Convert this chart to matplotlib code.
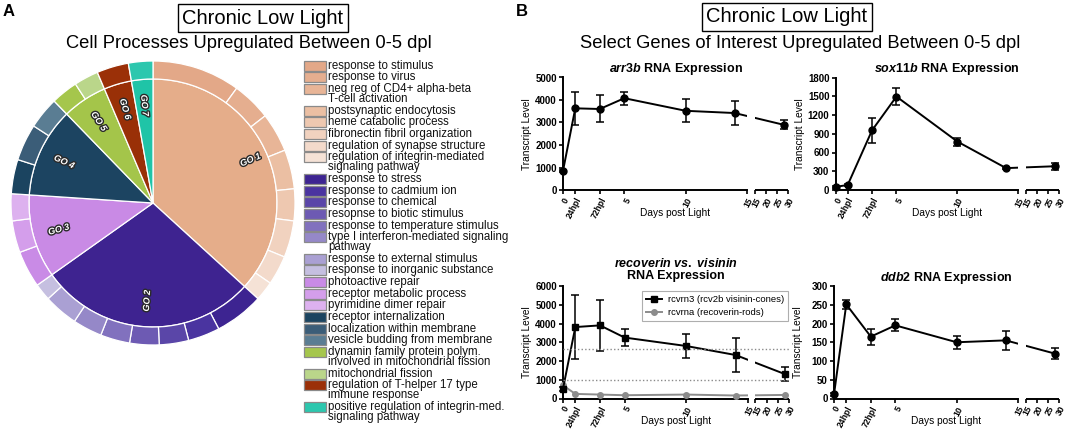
import numpy as np
import matplotlib
matplotlib.use('Agg')
import matplotlib.pyplot as plt
from matplotlib.patches import Rectangle
import matplotlib.patheffects as pe

plt.rcParams['font.family'] = ['Liberation Sans', 'DejaVu Sans']
plt.rcParams['mathtext.fontset'] = 'custom'
plt.rcParams['mathtext.it'] = 'Liberation Sans:italic:bold'
plt.rcParams['mathtext.rm'] = 'Liberation Sans:bold'
plt.rcParams['mathtext.bf'] = 'Liberation Sans:bold'

# ---------------- Data: pie (panel A) ----------------
go_names = ['GO 1', 'GO 2', 'GO 3', 'GO 4', 'GO 5', 'GO 6', 'GO 7']
go_colors = ['#e5ad8a', '#3e2390', '#c98ae5', '#1c4461', '#a4c54a', '#993007', '#1fc4a7']

go1_terms = ['response to stimulus', 'response to virus', 'neg reg of CD4+ alpha-beta\nT-cell activation',
             'postsynaptic endocytosis', 'heme catabolic process', 'fibronectin fibril organization',
             'regulation of synapse structure', 'regulation of integrin-mediated\nsignaling pathway']
go1_values = [36, 16, 16, 16, 13, 15, 12, 8]
go1_colors = ['#e3a888', '#e5ae8f', '#e8b597', '#ebbfa3', '#eec8b0', '#f1d2bf', '#f3dacb', '#f5e2d6']

go2_terms = ['response to stress', 'response to cadmium ion', 'response to chemical',
             'resopnse to biotic stimulus', 'response to temperature stimulus',
             'type I interferon-mediated signaling\npathway', 'response to external stimulus',
             'response to inorganic substance']
go2_values = [20, 13, 12, 12, 12, 12, 14, 7]
go2_colors = ['#3d2491', '#4a34a0', '#5a46a8', '#6d5ab3', '#8171be', '#9588c8', '#aaa0d3', '#c5bfe0']

go3_terms = ['photoactive repair', 'receptor metabolic process', 'pyrimidine dimer repair']
go3_values = [15, 13, 11]
go3_colors = ['#c98be6', '#d49eeb', '#ddb1ef']

go4_terms = ['receptor internalization', 'localization within membrane', 'vesicle budding from membrane']
go4_values = [14, 15, 13]
go4_colors = ['#1b4460', '#3b5d78', '#5a7d93']

go5_terms = ['dynamin family protein polym.\ninvolved in mitochondrial fission', 'mitochondrial fission']
go5_values = [11, 10]
go5_colors = ['#a5c64c', '#bad68a']

go6_terms = ['regulation of T-helper 17 type\nimmune response']
go6_values = [13]
go6_colors = ['#9b3008']

go7_terms = ['positive regulation of integrin-med.\nsignaling pathway']
go7_values = [10]
go7_colors = ['#2cc7ae']

# ---------------- Data: line charts (panel B) ----------------
days = [0, 1, 3, 5, 10, 14, 28]
x_ticks = [0, 1, 3, 5, 10, 15, 15.0001, 20, 25, 30]
x_ticklabels = ['0', '24hpl', '72hpl', '5', '10', '15', '15', '20', '25', '30']

arr3b_mean = [850, 3630, 3600, 4080, 3520, 3420, 2900]
arr3b_err = [60, 740, 600, 290, 520, 520, 200]

sox11b_mean = [50, 80, 955, 1495, 775, 350, 380]
sox11b_err = [15, 15, 200, 140, 65, 15, 60]

rcvrn3_mean = [520, 3810, 3900, 3250, 2800, 2320, 1310]
rcvrn3_err = [100, 1690, 1370, 440, 640, 890, 350]
rcvrna_mean = [700, 245, 210, 175, 210, 160, 190]
rcvrn_reflines = [2620, 1000]

ddb2_mean = [11, 251, 165, 195, 150, 155, 120]
ddb2_err = [3, 11, 21, 16, 18, 25, 15]

# ---------------- Figure ----------------
W, H = 1065, 429
fig = plt.figure(figsize=(W / 100, H / 100), dpi=100)


def px_axes(x0, y0, x1, y1):
    return fig.add_axes([x0 / W, 1 - y1 / H, (x1 - x0) / W, (y1 - y0) / H])


# overlay for annotations in pixel coordinates
ov = fig.add_axes([0, 0, 1, 1], zorder=10)
ov.set_xlim(0, W)
ov.set_ylim(H, 0)
ov.axis('off')

# ---- Panel A: pie ----
sub_values = [go1_values, go2_values, go3_values, go4_values, go5_values, go6_values, go7_values]
sub_colors = [go1_colors, go2_colors, go3_colors, go4_colors, go5_colors, go6_colors, go7_colors]
sub_terms = [go1_terms, go2_terms, go3_terms, go4_terms, go5_terms, go6_terms, go7_terms]
group_totals = [sum(v) for v in sub_values]
flat_vals = [v for grp in sub_values for v in grp]
flat_cols = [c for grp in sub_colors for c in grp]

axp = px_axes(9, 59, 297, 347)
r_in = 124 / 142
wedges, _ = axp.pie(group_totals, colors=go_colors, radius=r_in, startangle=90, counterclock=False,
                    wedgeprops=dict(edgecolor='white', linewidth=0.9))
axp.pie(flat_vals, colors=flat_cols, radius=1.0, startangle=90, counterclock=False,
        wedgeprops=dict(width=1.0 - r_in, edgecolor='white', linewidth=0.9))
axp.set_xlim(-144 / 142, 144 / 142)
axp.set_ylim(-144 / 142, 144 / 142)
axp.set_aspect('equal')
axp.axis('off')

for w, name in zip(wedges, go_names):
    th = 0.5 * (w.theta1 + w.theta2)
    r = 0.75 if name == 'GO 1' else 0.69
    xx, yy = r * np.cos(np.radians(th)), r * np.sin(np.radians(th))
    rot = th % 360
    if 90 < rot < 270:
        rot -= 180
    axp.text(xx, yy, name, rotation=rot, ha='center', va='center', rotation_mode='anchor',
             fontsize=6.5, fontweight='bold', fontstyle='italic', color='white',
             path_effects=[pe.withStroke(linewidth=2.0, foreground='#2a2a2a')])

# pie legend
y = 65.7
for terms, cols in zip(sub_terms, sub_colors):
    for term, col in zip(terms, cols):
        lines = term.split('\n')
        ov.add_patch(Rectangle((304, y - 5), 22, 10, facecolor=col, edgecolor='#8a8a8a', linewidth=0.9))
        for k, line in enumerate(lines):
            ov.text(328.5, y + 10 * k, line, fontsize=8.3, va='center', ha='left', color='#111111')
        y += 11.65 + 10 * (len(lines) - 1)

# panel headers
ov.text(3, 12, 'A', fontsize=12, fontweight='bold', va='center', ha='left')
ov.text(263, 18, 'Chronic Low Light', fontsize=14.5, ha='center', va='center',
        bbox=dict(boxstyle='square,pad=0.2', facecolor='white', edgecolor='black', linewidth=1))
ov.text(249, 44, 'Cell Processes Upregulated Between 0-5 dpl', fontsize=13.2, ha='center', va='center')

ov.text(516, 12, 'B', fontsize=12, fontweight='bold', va='center', ha='left')
ov.text(787, 17, 'Chronic Low Light', fontsize=14.5, ha='center', va='center',
        bbox=dict(boxstyle='square,pad=0.2', facecolor='white', edgecolor='black', linewidth=1))
ov.text(800, 44, 'Select Genes of Interest Upregulated Between 0-5 dpl', fontsize=13.2,
        ha='center', va='center')

# ---- Panel B: broken-axis line charts ----
XB, G, K = 15.0, 0.61, 0.182


def fwd(x):
    x = np.asarray(x, dtype=float)
    return np.where(x <= XB, x, XB + G + (x - XB) * K)


def inv(u):
    u = np.asarray(u, dtype=float)
    return np.where(u <= XB, u, np.where(u < XB + G, XB, XB + (u - XB - G) / K))


def setup_axes(ax, ymax, ystep, title, title_pad):
    ax.set_xscale('function', functions=(fwd, inv))
    ax.set_xlim(0, 30)
    ax.set_ylim(0, ymax)
    for s in ['top', 'right']:
        ax.spines[s].set_visible(False)
    for s in ['left', 'bottom']:
        ax.spines[s].set_linewidth(1.4)
    ax.spines['bottom'].set_bounds(0, XB)
    ax.plot([XB + 0.0001, 30], [0, 0], transform=ax.get_xaxis_transform(), color='black',
            lw=1.4, clip_on=False, solid_capstyle='butt')
    ax.add_patch(Rectangle((XB, 0.012), 0.0001, 1.0, transform=ax.get_xaxis_transform(),
                           facecolor='white', edgecolor='none', zorder=3.5, clip_on=False))
    ax.set_xticks(x_ticks)
    ax.set_xticklabels(x_ticklabels, rotation=62, ha='right', rotation_mode='anchor',
                       fontsize=6.2, fontweight='bold')
    ax.set_yticks(np.arange(0, ymax + 1, ystep))
    ax.set_yticklabels([str(int(v)) for v in np.arange(0, ymax + 1, ystep)], fontsize=7, fontweight='bold')
    ax.tick_params(axis='both', direction='out', length=3.2, width=1.2, pad=1.2)
    ax.set_xlabel('Days post Light', fontsize=7.3)
    ax.xaxis.set_label_coords(0.5, -0.2)
    ax.xaxis.label.set_va('center')
    ax.set_ylabel('Transcript Level', fontsize=7.3)
    ax.yaxis.set_label_coords(-0.16, 0.5)
    ax.yaxis.label.set_va('center')
    ax.set_title(title, fontsize=9, fontweight='bold', pad=title_pad, linespacing=1.0)
    ax.patch.set_visible(False)


def draw_series(ax, xs, ys, err, color, marker, ms, label=None):
    cont = ax.errorbar(xs, ys, yerr=err, color=color, marker=marker, ms=ms, lw=1.4, capsize=2.8,
                       elinewidth=1.1, capthick=1.1, zorder=3, label=label)
    line, caps, bars = cont.lines
    line.set_clip_on(False)
    for c in caps:
        c.set_clip_on(False)
    for b in bars:
        b.set_clip_on(False)
    return line


ax1 = px_axes(563, 77.5, 788, 190)
setup_axes(ax1, 5000, 1000, r'$\it{arr3b}$ RNA Expression', 3)
draw_series(ax1, days, arr3b_mean, arr3b_err, 'black', 'o', 5)

ax2 = px_axes(835.5, 77.5, 1059, 190)
setup_axes(ax2, 1800, 300, r'$\it{sox11b}$ RNA Expression', 3)
draw_series(ax2, days, sox11b_mean, sox11b_err, 'black', 'o', 5)

ax3 = px_axes(563, 286, 789, 398.5)
setup_axes(ax3, 6000, 1000, r'$\it{recoverin}$ $\it{vs.}$ $\it{visinin}$' + '\nRNA Expression', 5)
for ref in rcvrn_reflines:
    ax3.axhline(ref, color='#8a8a8a', linestyle=(0, (1, 1.6)), lw=1.0, zorder=4)
h_cones = draw_series(ax3, days, rcvrn3_mean, rcvrn3_err, 'black', 's', 5)
h_rods, = ax3.plot(days, rcvrna_mean, color='#8c8c8c', marker='o', ms=4, lw=1.4, zorder=2.8,
                   clip_on=False)
leg = ax3.legend([h_cones, h_rods], ['rcvrn3 (rcv2b visinin-cones)', 'rcvrna (recoverin-rods)'],
                 loc='upper right', bbox_to_anchor=(0.997, 0.958), borderaxespad=0, fontsize=6.8,
                 frameon=True, fancybox=False, edgecolor='#9a9a9a', handlelength=1.7,
                 borderpad=0.45, labelspacing=0.45, handletextpad=0.6)
leg.get_frame().set_linewidth(0.8)
leg.set_zorder(5)

ax4 = px_axes(834, 286, 1059, 398.5)
setup_axes(ax4, 300, 50, r'$\it{ddb2}$ RNA Expression', 3)
draw_series(ax4, days, ddb2_mean, ddb2_err, 'black', 'o', 5)

fig.savefig('out.png', dpi=100)
